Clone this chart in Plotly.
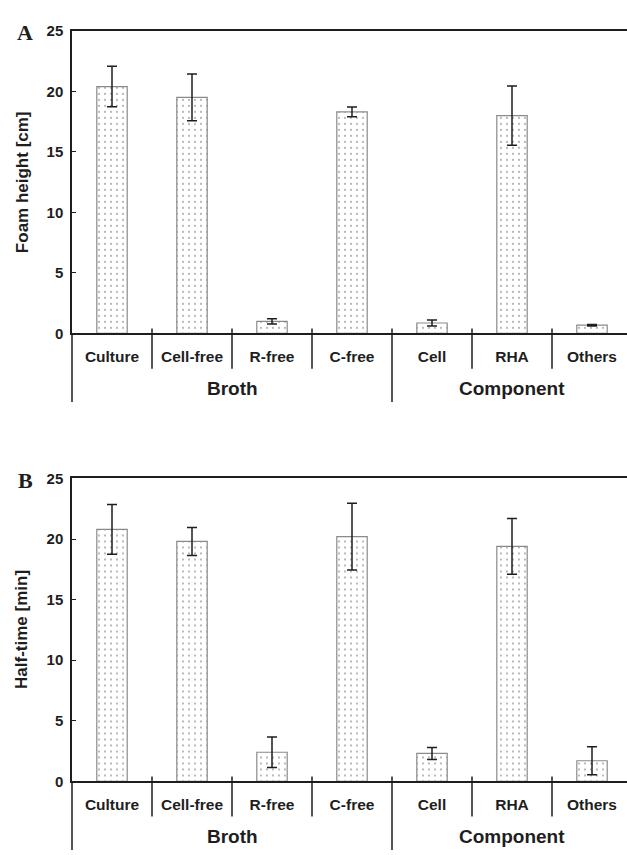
import plotly.graph_objects as go

# ---------------- data ----------------
categories = ["Culture", "Cell-free", "R-free", "C-free", "Cell", "RHA", "Others"]
group_names = ["Broth", "Component"]
group_centers = [1.5, 5.0]          # category-index centre of each group
foam_height = [20.4, 19.5, 1.0, 18.3, 0.86, 18.0, 0.68]
foam_height_err = [1.67, 1.93, 0.22, 0.40, 0.25, 2.45, 0.06]
half_time = [20.8, 19.8, 2.4, 20.2, 2.3, 19.4, 1.7]
half_time_err = [2.05, 1.15, 1.25, 2.75, 0.5, 2.3, 1.16]
y_ticks = [0, 5, 10, 15, 20, 25]
panel_titles = ["Foam height [cm]", "Half-time [min]"]
panel_letters = ["A", "B"]

# ---------------- layout helpers ----------------
W, H = 627, 855
def py(p):
    return 1 - p / H

X0 = 72 / W
SPACING = 80.0
XRANGE = [-0.5, -0.5 + (W - 72) / SPACING]
# panel pixel tops / bottoms
panels = [(22.3, 331.0), (479.0, 788.0)]

SANS = "Liberation Sans, Arial, sans-serif"
INK = "#1e1e1e"

fig = go.Figure()
series = [(foam_height, foam_height_err), (half_time, half_time_err)]
for i, (vals, errs) in enumerate(series):
    xa = "x" if i == 0 else "x2"
    ya = "y" if i == 0 else "y2"
    fig.add_trace(go.Bar(
        x=categories, y=vals, xaxis=xa, yaxis=ya,
        width=0.38,
        marker=dict(
            color="white",
            line=dict(color="#8a8a8a", width=1.2),
            pattern=dict(shape=".", fgcolor="#333333", bgcolor="white",
                         size=6, solidity=0.07, fillmode="overlay"),
        ),
        error_y=dict(type="data", array=errs, visible=True,
                     color=INK, thickness=1.5, width=5),
        showlegend=False,
    ))

axis_common_x = dict(
    type="category", range=XRANGE, domain=[X0, 1],
    showline=True, linecolor=INK, linewidth=2, mirror=True,
    ticks="", showgrid=False, zeroline=False,
    tickfont=dict(family=SANS, size=15.5, color=INK, weight="bold"),
    ticklabelstandoff=8,
)
axis_common_y = dict(
    range=[0, 25], tickvals=y_ticks,
    showline=True, linecolor=INK, linewidth=1.5,
    ticks="inside", ticklen=4, tickwidth=1, tickcolor=INK,
    showgrid=False, zeroline=False,
    tickfont=dict(family=SANS, size=15, color=INK, weight="bold"),
    ticklabelstandoff=4,
)

(t0, b0), (t1, b1) = panels
fig.update_layout(
    width=W, height=H,
    margin=dict(l=0, r=0, t=0, b=0),
    paper_bgcolor="white", plot_bgcolor="white",
    xaxis=dict(axis_common_x, anchor="y"),
    yaxis=dict(axis_common_y, domain=[py(b0), py(t0)], anchor="x"),
    xaxis2=dict(axis_common_x, anchor="y2"),
    yaxis2=dict(axis_common_y, domain=[py(b1), py(t1)], anchor="x2"),
    bargap=0.62,
)

shapes = []
annotations = []
for i, (top, bot) in enumerate(panels):
    xr = "x" if i == 0 else "x2"
    # separators between categories
    for k in range(len(categories) - 1):
        sep = k + 0.5
        long = (k == 3)
        shapes.append(dict(type="line", xref=xr, yref="paper",
                           x0=sep, x1=sep, y0=py(bot - 5),
                           y1=py(bot + (70 if long else 36)),
                           line=dict(color=INK, width=1.5)))
    # left bracket line
    shapes.append(dict(type="line", xref="paper", yref="paper",
                       x0=X0, x1=X0, y0=py(bot), y1=py(bot + 70),
                       line=dict(color=INK, width=1.5)))
    # group labels
    for name, c in zip(group_names, group_centers):
        annotations.append(dict(text=name, xref=xr, yref="paper",
                                x=c, y=py(bot + 56), showarrow=False,
                                xanchor="center", yanchor="middle",
                                font=dict(family=SANS, size=19, color=INK,
                                          weight="bold")))
    # y title
    annotations.append(dict(text=panel_titles[i], xref="paper", yref="paper",
                            x=22 / W, y=py((top + bot) / 2), textangle=-90,
                            showarrow=False, xanchor="center", yanchor="middle",
                            font=dict(family=SANS, size=17, color=INK,
                                      weight="bold")))
    # panel letter
    annotations.append(dict(text=panel_letters[i], xref="paper", yref="paper",
                            x=25 / W, y=py(top + 2), showarrow=False,
                            xanchor="center", yanchor="middle",
                            font=dict(family="Liberation Serif, Times New Roman, serif",
                                      size=22, color=INK, weight="bold")))

fig.update_layout(shapes=shapes, annotations=annotations)
fig.write_html("out.html")
